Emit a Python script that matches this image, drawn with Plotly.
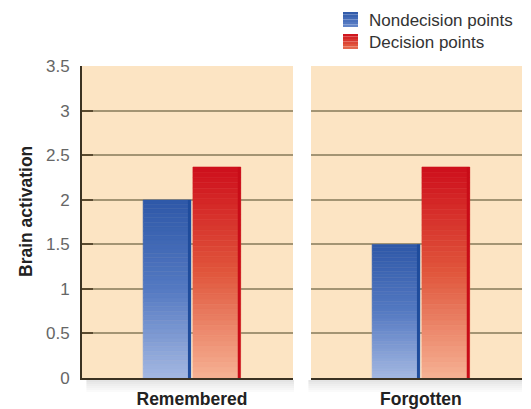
import plotly.graph_objects as go
from plotly.subplots import make_subplots

categories = ["Remembered", "Forgotten"]
nondecision = [2.0, 1.5]
decision = [2.37, 2.37]
series_names = ["Nondecision points", "Decision points"]
y_ticks = [0, 0.5, 1, 1.5, 2, 2.5, 3, 3.5]
y_tick_labels = ["0", "0.5", "1", "1.5", "2", "2.5", "3", "3.5"]
y_title = "Brain activation"

FONT = "Liberation Sans, Arial, Helvetica, sans-serif"

# figure is placed by the page at an 8px offset; size it to fill the window
W, H = 523, 401
L, R, T, B = 74, 9, 58, 31
PW, PH = W - L - R, H - T - B
PANEL_W = 212  # px width of each panel

BARGAP, GROUPGAP = 0.528, 0.04
SLOT = (1 - BARGAP) / 2
BAR_W = SLOT * (1 - GROUPGAP)
EDGE = 3 / PANEL_W  # dark edge stripe width in axis units


def hex2rgb(h):
    h = h.lstrip("#")
    return [int(h[i:i + 2], 16) for i in (0, 2, 4)]


def grad(stops, t):
    for (p0, c0), (p1, c1) in zip(stops, stops[1:]):
        if p0 <= t <= p1:
            f = (t - p0) / (p1 - p0) if p1 > p0 else 0
            a, b = hex2rgb(c0), hex2rgb(c1)
            return "rgb(%d,%d,%d)" % tuple(round(a[i] + (b[i] - a[i]) * f) for i in range(3))
    return stops[-1][1]


blue_stops = [(0.0, "#A4B8E2"), (0.5, "#5479C2"), (1.0, "#2E58A8")]
red_stops = [(0.0, "#F6B294"), (0.5, "#E0563C"), (1.0, "#CE0F1C")]
edge_colors = {"nd": "#1F4C9C", "d": "#C80C18"}

fig = make_subplots(rows=1, cols=2, shared_yaxes=True, horizontal_spacing=18 / PW)

N = 40
series = [(nondecision, blue_stops, "nd"), (decision, red_stops, "d")]
for ci, cat in enumerate(categories):
    for si, (vals, stops, og) in enumerate(series):
        v = vals[ci]
        for k in range(N):
            t = (k + 0.5) / N
            col = grad(stops, t)
            fig.add_trace(
                go.Bar(x=[cat], y=[v / N], base=[v * k / N], offsetgroup=og,
                       marker=dict(color=col, line=dict(width=0.6, color=col)),
                       showlegend=False, hoverinfo="skip"),
                row=1, col=ci + 1)
        # darker right-hand edge of the bar
        right = (-1 + si) * SLOT + (SLOT + BAR_W) / 2
        fig.add_trace(
            go.Bar(x=[cat], y=[v], offsetgroup=og, offset=right - EDGE, width=EDGE,
                   marker=dict(color=edge_colors[og], line=dict(width=0)),
                   showlegend=False, hoverinfo="skip"),
            row=1, col=ci + 1)

shapes = []
annotations = []
# soft shadow beneath each panel's baseline
for dom in ([0, PANEL_W / PW], [(PW - PANEL_W - 6) / PW, 1]):
    for i in range(6):
        shapes.append(dict(type="rect", xref="paper", yref="paper",
                           x0=dom[0] + 0.01, x1=dom[1],
                           y0=-(2 + 2 * (i + 1)) / PH, y1=-(2 + 2 * i) / PH,
                           fillcolor="rgba(90,90,90,%.3f)" % (0.16 * (1 - i / 6)),
                           line=dict(width=0), layer="below"))


def px(fx):
    return (fx - L) / PW


def py(fy):
    return (H - B - fy) / PH


# legend (swatches + labels)
for j, (name, (vals, stops, og)) in enumerate(zip(series_names, series)):
    top = 4 + 22 * j
    nslc = 6
    for s in range(nslc):
        t = 1 - (s + 0.5) / nslc
        shapes.append(dict(type="rect", xref="paper", yref="paper",
                           x0=px(335), x1=px(350),
                           y0=py(top + 15 * (s + 1) / nslc), y1=py(top + 15 * s / nslc),
                           fillcolor=grad(stops, 0.35 + 0.65 * t), line=dict(width=0)))
    annotations.append(dict(xref="paper", yref="paper", x=px(359), y=py(top + 8),
                            xanchor="left", yanchor="middle", showarrow=False,
                            text=name, font=dict(size=17, color="#333", family=FONT)))

# y-axis title
annotations.append(dict(xref="paper", yref="paper", x=px(18), y=py(204),
                        xanchor="center", yanchor="middle", showarrow=False, textangle=-90,
                        text=y_title, font=dict(size=17.5, color="#222", family=FONT, weight="bold")))

grid = "#A39473"
fig.update_layout(
    width=W, height=H,
    margin=dict(l=L, r=R, t=T, b=B, autoexpand=False),
    paper_bgcolor="white", plot_bgcolor="#FCE4C3",
    barmode="group", bargap=BARGAP, bargroupgap=GROUPGAP,
    font=dict(family=FONT, color="#333"),
    showlegend=False,
    shapes=shapes,
    annotations=annotations,
)
for ax in ["xaxis", "xaxis2"]:
    fig.layout[ax].update(range=[-0.521, 0.479], showline=True, linecolor="#3B3222", linewidth=2,
                          ticks="", tickfont=dict(size=17.5, color="#222", family=FONT, weight="bold"),
                          showgrid=False, automargin=False, ticklabelstandoff=4)
fig.update_yaxes(range=[0, 3.505], tickvals=y_ticks, ticktext=y_tick_labels,
                 showgrid=True, gridcolor=grid, gridwidth=1.5, zeroline=False, automargin=False)
fig.layout.yaxis.update(showline=True, linecolor="#3B3222", linewidth=2, ticks="inside",
                        ticklen=11, tickcolor="#5A4A30", tickwidth=1.5, ticklabelstandoff=7,
                        tickfont=dict(size=17, color="#666", family=FONT))
fig.layout.yaxis2.update(showline=False, ticks="")

fig.write_html("out.html")
